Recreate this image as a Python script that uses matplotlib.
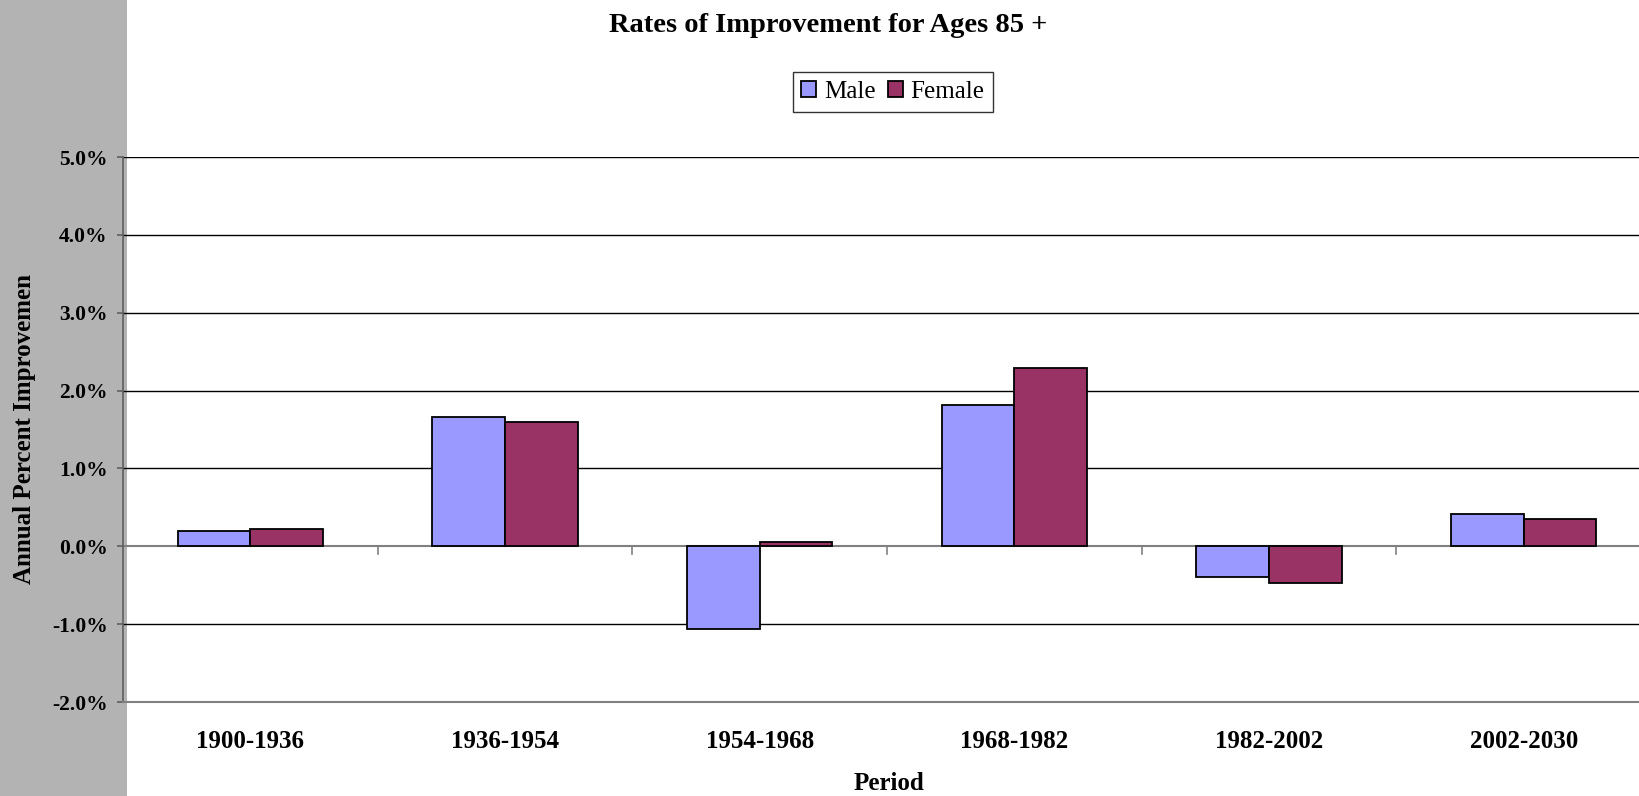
import numpy as np
import matplotlib
matplotlib.use('Agg')
import matplotlib.pyplot as plt
from matplotlib.patches import Rectangle
from matplotlib.ticker import FuncFormatter

periods = ['1900-1936', '1936-1954', '1954-1968', '1968-1982', '1982-2002', '2002-2030']
male = [0.19, 1.66, -1.06, 1.82, -0.39, 0.42]
female = [0.22, 1.59, 0.05, 2.29, -0.47, 0.35]

plt.rcParams['font.family'] = ['Liberation Serif', 'DejaVu Serif']

W, H = 1639, 796
fig = plt.figure(figsize=(W / 100, H / 100), dpi=100)

# grey band on the left, as in the original sheet
fig.patches.append(Rectangle((0, 0), 127 / W, 1, transform=fig.transFigure,
                             facecolor='#b3b3b3', edgecolor='none', zorder=-5))

left, right = 123 / W, 1651 / W
bottom, top = (H - 702) / H, (H - 157) / H
ax = fig.add_axes([left, bottom, right - left, top - bottom])
ax.patch.set_alpha(0)

x = np.arange(len(periods))
w = 1 / 3.5
ax.bar(x - w / 2, male, w, color='#9999FF', edgecolor='black', linewidth=1.3,
       label='Male', zorder=3)
ax.bar(x + w / 2, female, w, color='#993366', edgecolor='black', linewidth=1.3,
       label='Female', zorder=3)

ax.set_xlim(-0.5, len(periods) - 0.5)
ax.set_ylim(-2, 5)
ax.set_yticks(np.arange(-2, 6, 1))
ax.yaxis.set_major_formatter(FuncFormatter(lambda v, p: f'{v:.1f}%'))
for v in range(-1, 6):
    if v != 0:
        ax.axhline(v, color='black', linewidth=1, zorder=1)
ax.axhline(0, color='#808080', linewidth=1.5, zorder=2)

# category separator ticks on the zero line
for b in np.arange(0.5, len(periods) - 0.5, 1):
    ax.plot([b, b], [0, -0.1], color='#808080', linewidth=1.2, zorder=2)

for s in ['top', 'right']:
    ax.spines[s].set_visible(False)
ax.spines['bottom'].set_color('#808080')
ax.spines['bottom'].set_linewidth(1.5)
ax.spines['left'].set_color('#606060')
ax.spines['left'].set_linewidth(1.2)

ax.set_xticks(x)
ax.set_xticklabels(periods, fontsize=18, fontweight='bold')
ax.tick_params(axis='x', length=0, pad=20)
ax.tick_params(axis='y', length=4, width=1.2, color='#606060', pad=7,
               labelsize=15.5)
for t in ax.get_yticklabels():
    t.set_fontweight('bold')

fig.text(889 / W, 1 - 784 / H, 'Period', ha='center', va='center',
         fontsize=18, fontweight='bold')
fig.text(25 / W, 1 - 429 / H, 'Annual Percent Improvemen', rotation=90,
         ha='center', va='center', fontsize=18, fontweight='bold')
fig.text(828 / W, 1 - 25 / H, 'Rates of Improvement for Ages 85 +',
         ha='center', va='center', fontsize=20.5, fontweight='bold')

leg = fig.legend(loc='center', bbox_to_anchor=(893 / W, 1 - 92 / H), ncol=2,
                 fontsize=18, frameon=True, fancybox=False, handlelength=0.6,
                 handleheight=0.6, handletextpad=0.3, columnspacing=0.5,
                 borderpad=0.35)
leg.get_frame().set_edgecolor('black')
leg.get_frame().set_linewidth(1)

fig.savefig('out.png', dpi=100)
